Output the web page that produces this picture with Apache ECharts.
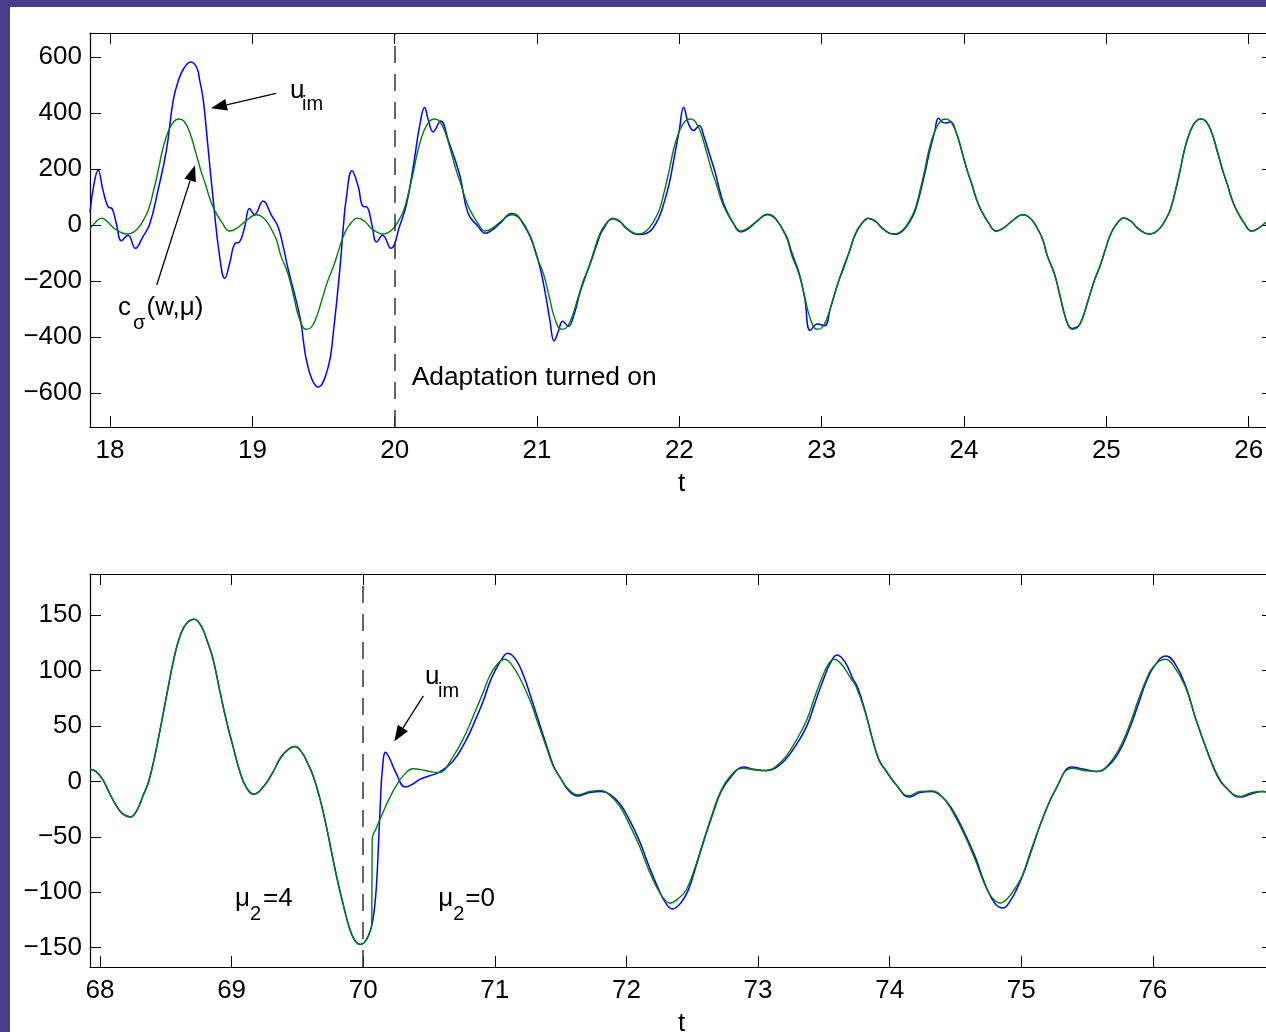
<!DOCTYPE html>
<html>
<head>
<meta charset="utf-8">
<title>u_im vs c_sigma</title>
<script src="https://cdn.jsdelivr.net/npm/echarts@6.0.0/dist/echarts.min.js"></script>
<style>
    html, body { margin: 0; padding: 0; background: #483d8b; }
    #chart { position: absolute; left: 10px; top: 7px; width: 1256px; height: 1025px; background: #ffffff; }
</style>
</head>
<body>
<div id="chart"></div>
<script>
// ---- tick values ----
const topXTicks = [18, 19, 20, 21, 22, 23, 24, 25, 26];
const topYTicks = [-600, -400, -200, 0, 200, 400, 600];
const bottomXTicks = [68, 69, 70, 71, 72, 73, 74, 75, 76];
const bottomYTicks = [-150, -100, -50, 0, 50, 100, 150];

// ---- upper panel: [t, value] ----
const topGreen = [
    [17.859, -15], [17.90, 10], [17.94, 24], [17.98, 12], [18.03, -13], [18.08, -28],
    [18.12, -33], [18.16, -28], [18.20, -10], [18.24, 22], [18.27, 55], [18.30, 110], [18.34, 198],
    [18.37, 270], [18.41, 335], [18.45, 370], [18.485, 378], [18.52, 370], [18.56, 330], [18.60, 262],
    [18.64, 190], [18.67, 145], [18.70, 95], [18.735, 52], [18.79, 5], [18.84, -22], [18.89, -12],
    [18.95, 12], [19.03, 36], [19.07, 28], [19.11, 5], [19.14, -22], [19.17, -55], [19.20, -110],
    [19.25, -175], [19.29, -255], [19.33, -335], [19.376, -373], [19.41, -368], [19.45, -330],
    [19.49, -265], [19.53, -200], [19.57, -148], [19.61, -85], [19.64, -40], [19.68, -2], [19.74, 24],
    [19.79, 12], [19.83, -10], [19.88, -28],
    [19.915, -33], [19.955, -28], [19.995, -10], [20.035, 22], [20.065, 55], [20.095, 110], [20.135, 198],
    [20.165, 270], [20.205, 335], [20.245, 370], [20.28, 378], [20.315, 370], [20.355, 330], [20.395, 262],
    [20.435, 190], [20.465, 145], [20.495, 95], [20.53, 52], [20.585, 5], [20.635, -22], [20.685, -12],
    [20.745, 12], [20.825, 36], [20.865, 28], [20.905, 5], [20.935, -22], [20.965, -55], [20.995, -110],
    [21.045, -175], [21.085, -255], [21.125, -335], [21.171, -373], [21.205, -368], [21.245, -330],
    [21.285, -265], [21.325, -200], [21.365, -148], [21.405, -85], [21.435, -40], [21.475, -2], [21.535, 24],
    [21.585, 12], [21.625, -10], [21.675, -28],
    [21.71, -33], [21.75, -28], [21.79, -10], [21.83, 22], [21.86, 55], [21.89, 110], [21.93, 198],
    [21.96, 270], [22.00, 335], [22.04, 370], [22.075, 378], [22.11, 370], [22.15, 330], [22.19, 262],
    [22.23, 190], [22.26, 145], [22.29, 95], [22.325, 52], [22.38, 5], [22.43, -22], [22.48, -12],
    [22.54, 12], [22.62, 36], [22.66, 28], [22.70, 5], [22.73, -22], [22.76, -55], [22.79, -110],
    [22.84, -175], [22.88, -255], [22.92, -335], [22.966, -373], [23.00, -368], [23.04, -330],
    [23.08, -265], [23.12, -200], [23.16, -148], [23.20, -85], [23.23, -40], [23.27, -2], [23.33, 24],
    [23.38, 12], [23.42, -10], [23.47, -28],
    [23.505, -33], [23.545, -28], [23.585, -10], [23.625, 22], [23.655, 55], [23.685, 110], [23.725, 198],
    [23.755, 270], [23.795, 335], [23.835, 370], [23.87, 378], [23.905, 370], [23.945, 330], [23.985, 262],
    [24.025, 190], [24.055, 145], [24.085, 95], [24.12, 52], [24.175, 5], [24.225, -22], [24.275, -12],
    [24.335, 12], [24.415, 36], [24.455, 28], [24.495, 5], [24.525, -22], [24.555, -55], [24.585, -110],
    [24.635, -175], [24.675, -255], [24.715, -335], [24.761, -373], [24.795, -368], [24.835, -330],
    [24.875, -265], [24.915, -200], [24.955, -148], [24.995, -85], [25.025, -40], [25.065, -2], [25.125, 24],
    [25.175, 12], [25.215, -10], [25.265, -28],
    [25.30, -33], [25.34, -28], [25.38, -10], [25.42, 22], [25.45, 55], [25.48, 110], [25.52, 198],
    [25.55, 270], [25.59, 335], [25.63, 370], [25.665, 378], [25.70, 370], [25.74, 330], [25.78, 262],
    [25.82, 190], [25.85, 145], [25.88, 95], [25.915, 52], [25.97, 5], [26.02, -22], [26.07, -12],
    [26.13, 12], [26.171, 25],
];

const topBlue = [
    [17.859, 45], [17.885, 140], [17.916, 195], [17.95, 124], [17.986, 64], [18.014, 58], [18.044, 5],
    [18.08, -57], [18.126, -37], [18.178, -84], [18.23, -43], [18.28, 5], [18.337, 124], [18.396, 267],
    [18.444, 445], [18.48, 515], [18.52, 560], [18.567, 581], [18.61, 560], [18.63, 515], [18.655, 445],
    [18.69, 267], [18.725, 88], [18.77, -114], [18.806, -191], [18.84, -138], [18.876, -67], [18.91, -61],
    [18.946, -7], [18.98, 58], [19.015, 37], [19.075, 85], [19.133, 35], [19.18, -7], [19.217, -79],
    [19.25, -156], [19.334, -329], [19.39, -507], [19.463, -579], [19.533, -507], [19.568, -388],
    [19.616, -150], [19.639, -7], [19.658, 88], [19.70, 193], [19.744, 136], [19.775, 67], [19.808, 62],
    [19.838, 5], [19.873, -61], [19.915, -37], [19.972, -84], [20.037, -1], [20.084, 76], [20.13, 207],
    [20.178, 362], [20.21, 419], [20.236, 374], [20.27, 332], [20.323, 371], [20.376, 302], [20.457, 177],
    [20.516, 40], [20.585, -5], [20.635, -30], [20.685, -18], [20.745, 8], [20.82, 40], [20.86, 34],
    [20.90, 5], [20.94, -30], [20.98, -80], [21.02, -150], [21.06, -250], [21.09, -340], [21.12, -415],
    [21.15, -380], [21.18, -344], [21.22, -362], [21.26, -320], [21.30, -245], [21.34, -185], [21.38, -130],
    [21.42, -70], [21.46, -20], [21.535, 22], [21.585, 10], [21.625, -12], [21.675, -30], [21.72, -35],
    [21.77, -30], [21.81, -15], [21.86, 30], [21.89, 75], [21.93, 150], [21.96, 230], [22.00, 340],
    [22.03, 420], [22.065, 360], [22.10, 337], [22.14, 355], [22.17, 320], [22.21, 255], [22.25, 190],
    [22.29, 110], [22.325, 58], [22.38, 5], [22.43, -25], [22.48, -15], [22.54, 10], [22.62, 38],
    [22.66, 30], [22.70, 5], [22.73, -20], [22.76, -50], [22.79, -100], [22.84, -170], [22.88, -260],
    [22.92, -377], [22.97, -354], [23.02, -360], [23.06, -300], [23.10, -232], [23.14, -170],
    [23.20, -88], [23.23, -42], [23.27, -4], [23.33, 23], [23.38, 12], [23.42, -10], [23.47, -29],
    [23.505, -34], [23.545, -30], [23.585, -13], [23.625, 17], [23.655, 48], [23.685, 100], [23.725, 185],
    [23.755, 255], [23.795, 335], [23.82, 381], [23.85, 366], [23.875, 364], [23.905, 368], [23.945, 330],
    [23.985, 262], [24.025, 190], [24.055, 145], [24.085, 95], [24.12, 52], [24.175, 5], [24.225, -22],
    [24.275, -12], [24.335, 12], [24.415, 36], [24.455, 28], [24.495, 5], [24.525, -22], [24.555, -55],
    [24.585, -110], [24.635, -175], [24.675, -255], [24.715, -335], [24.74, -365], [24.761, -370],
    [24.78, -368], [24.81, -358], [24.835, -330], [24.875, -265], [24.915, -200], [24.955, -148],
    [24.995, -85], [25.025, -40], [25.065, -2], [25.125, 24], [25.175, 12], [25.215, -10], [25.265, -28],
    [25.30, -33], [25.34, -28], [25.38, -10], [25.42, 22], [25.45, 55], [25.48, 110], [25.52, 198],
    [25.55, 270], [25.59, 335], [25.63, 370], [25.665, 378], [25.70, 370], [25.74, 330], [25.78, 262],
    [25.82, 190], [25.85, 145], [25.88, 95], [25.915, 52], [25.97, 5], [26.02, -22], [26.07, -12],
    [26.13, 12], [26.171, 25],
];

// ---- lower panel ----
const bottomBefore = [
    [67.924, 11], [67.97, 9], [68.02, 2], [68.07, -10], [68.12, -21], [68.17, -29], [68.23, -32],
    [68.28, -26], [68.33, -12], [68.37, 0], [68.42, 25], [68.47, 55], [68.51, 80], [68.56, 110],
    [68.61, 132], [68.66, 143], [68.716, 146.5], [68.77, 140], [68.82, 125], [68.86, 110], [68.91, 82],
    [68.96, 55], [69.01, 32], [69.06, 10], [69.11, -5], [69.17, -11.4], [69.24, -5], [69.31, 7.5],
    [69.37, 21], [69.43, 29], [69.48, 31.6], [69.53, 27], [69.58, 16], [69.62, 5], [69.67, -15],
    [69.71, -35], [69.75, -58], [69.80, -87], [69.85, -112], [69.90, -134], [69.94, -144],
    [69.977, -147], [70.01, -145], [70.04, -139],
];

const bottomGreenAfter = [
    [70.065, -128], [70.068, -52], [70.10, -42], [70.15, -28], [70.20, -15], [70.25, -4], [70.31, 6],
    [70.38, 11.5], [70.47, 10], [70.57, 8], [70.68, 22], [70.78, 43.6], [70.85, 63], [70.91, 80],
    [70.96, 95], [71.02, 106], [71.075, 110.4], [71.13, 105], [71.20, 91], [71.265, 73.7], [71.33, 52],
    [71.39, 31.6], [71.44, 15], [71.49, 4.5], [71.56, -7], [71.63, -12], [71.72, -9], [71.81, -8],
    [71.88, -13], [71.95, -22.5], [72.02, -38], [72.10, -58.6], [72.17, -80], [72.227, -94.7],
    [72.28, -105], [72.33, -109.7], [72.39, -106], [72.455, -97.7], [72.52, -78], [72.58, -55.6],
    [72.65, -30], [72.71, -10.5], [72.79, 5], [72.885, 12], [72.97, 10.5], [73.06, 9.6], [73.13, 13],
    [73.21, 22.5], [73.29, 37], [73.37, 55.6], [73.43, 76], [73.48, 92], [73.53, 105], [73.58, 110.4],
    [73.64, 105], [73.70, 94], [73.745, 85.7], [73.816, 61.7], [73.87, 38], [73.92, 19.6], [73.97, 10.5],
    [74.05, -3], [74.145, -12.9], [74.23, -9], [74.32, -8.4], [74.40, -14], [74.47, -25.5], [74.56, -46],
    [74.65, -70.6], [74.73, -95], [74.78, -105], [74.84, -109.7], [74.90, -105], [74.95, -97],
    [75.005, -85.7], [75.08, -60], [75.16, -34.5], [75.27, -5], [75.385, 12], [75.48, 10], [75.575, 9],
    [75.66, 15], [75.74, 28.6], [75.82, 50], [75.89, 73.7], [75.95, 92], [76.00, 103], [76.094, 110.4],
    [76.16, 104], [76.246, 85.7], [76.33, 55], [76.42, 25.6], [76.49, 6], [76.55, -4.5], [76.664, -13.5],
    [76.75, -10], [76.83, -9], [76.913, -11],
];

const bottomBlueAfter = [
    [70.065, -130], [70.085, -115], [70.10, -95], [70.115, -60], [70.13, -20], [70.145, 10], [70.17, 26.5],
    [70.20, 21], [70.25, 7.5], [70.32, -5], [70.38, -2], [70.43, 2], [70.50, 5], [70.57, 8], [70.68, 18],
    [70.78, 37], [70.85, 55], [70.91, 72], [70.97, 92], [71.04, 108], [71.10, 115.8], [71.16, 110],
    [71.22, 95], [71.28, 74], [71.34, 52], [71.40, 30], [71.45, 13], [71.50, 3], [71.56, -8], [71.63, -13],
    [71.72, -10], [71.81, -9], [71.88, -12], [71.95, -20], [72.02, -34], [72.10, -54], [72.17, -76],
    [72.24, -96], [72.30, -110], [72.35, -115], [72.41, -110], [72.47, -98], [72.53, -76], [72.59, -53],
    [72.66, -28], [72.72, -9], [72.80, 5], [72.89, 13], [72.97, 11], [73.06, 10], [73.13, 12], [73.21, 20],
    [73.29, 33], [73.37, 50], [73.43, 70], [73.49, 90], [73.55, 107], [73.60, 114.3], [73.66, 108],
    [73.72, 93], [73.76, 84], [73.82, 61], [73.87, 38], [73.92, 19], [73.97, 10], [74.05, -3], [74.15, -14],
    [74.23, -10], [74.32, -9], [74.40, -14], [74.47, -24], [74.56, -44], [74.65, -68], [74.73, -94],
    [74.80, -110], [74.86, -114.2], [74.92, -107], [74.97, -96], [75.02, -82], [75.09, -58], [75.16, -34],
    [75.27, -5], [75.385, 13], [75.48, 11], [75.575, 9], [75.66, 14], [75.74, 26], [75.82, 47], [75.89, 70],
    [75.95, 90], [76.01, 104], [76.10, 113.4], [76.17, 106], [76.25, 86], [76.33, 55], [76.42, 25],
    [76.49, 5], [76.55, -5], [76.664, -14], [76.75, -11], [76.83, -9], [76.913, -11],
];

const bottomGreen = bottomBefore.concat(bottomGreenAfter);
const bottomBlue = bottomBefore.concat(bottomBlueAfter);


const FONT = "'Liberation Sans', Arial, Helvetica, sans-serif";
const BLUE = "#0000ff";
const GREEN = "#008000";

const minusSign = (v) => String(v).replace("-", "\u2212");

function frameAxis(extra) {
    return Object.assign({
        type: "value",
        axisLine: { show: true, onZero: false, lineStyle: { color: "#000", width: 1.2 } },
        axisTick: { show: true, inside: true, length: 11, lineStyle: { color: "#000", width: 1 } },
        splitLine: { show: false },
    }, extra);
}

function xAxes(gridIndex, min, max, ticks) {
    return [
        frameAxis({
            gridIndex: gridIndex, position: "bottom", min: min, max: max,
            name: "t", nameLocation: "middle", nameGap: 44,
            nameTextStyle: { color: "#000", fontSize: 26, fontFamily: FONT },
            axisTick: { show: true, inside: true, length: 11, customValues: ticks, lineStyle: { color: "#000" } },
            axisLabel: { customValues: ticks, margin: 11, color: "#000", fontSize: 26, fontFamily: FONT },
        }),
        frameAxis({
            gridIndex: gridIndex, position: "top", min: min, max: max,
            axisTick: { show: true, inside: true, length: 11, customValues: ticks, lineStyle: { color: "#000" } },
            axisLabel: { show: false },
        }),
    ];
}

function yAxes(gridIndex, min, max, ticks) {
    return [
        frameAxis({
            gridIndex: gridIndex, position: "left", min: min, max: max,
            axisTick: { show: true, inside: true, length: 11, customValues: ticks, lineStyle: { color: "#000" } },
            axisLabel: { customValues: ticks, margin: 8, color: "#000", fontSize: 26, fontFamily: FONT, formatter: minusSign },
        }),
        frameAxis({
            gridIndex: gridIndex, position: "right", min: min, max: max,
            axisTick: { show: true, inside: true, length: 11, customValues: ticks, lineStyle: { color: "#000" } },
            axisLabel: { show: false },
        }),
    ];
}

function curve(name, data, color, xIdx, yIdx, extra) {
    return Object.assign({
        name: name,
        type: "line",
        xAxisIndex: xIdx,
        yAxisIndex: yIdx,
        data: data,
        showSymbol: false,
        smooth: 0.45,
        lineStyle: { color: color, width: color === GREEN ? 1.4 : 1.5 },
        itemStyle: { color: color },
        z: color === GREEN ? 3 : 2,
    }, extra || {});
}

function switchLine(t) {
    return {
        markLine: {
            silent: true,
            symbol: ["none", "none"],
            label: { show: false },
            lineStyle: { color: "#333", width: 1.5, type: [17, 11] },
            data: [{ xAxis: t }],
        },
    };
}

const chart = echarts.init(document.getElementById("chart"), null, { renderer: "canvas" });

chart.setOption({
    animation: false,
    backgroundColor: "#ffffff",
    grid: [
        { left: 80, top: 26, width: 1183, height: 394, containLabel: false, outerBoundsMode: "none" },
        { left: 80, top: 567, width: 1183, height: 393, containLabel: false, outerBoundsMode: "none" },
    ],
    xAxis: [].concat(xAxes(0, 17.859, 26.171, topXTicks), xAxes(1, 67.924, 76.913, bottomXTicks)),
    yAxis: [].concat(yAxes(0, -722, 685, topYTicks), yAxes(1, -167.4, 187.3, bottomYTicks)),
    series: [
        curve("u_im", topBlue, BLUE, 0, 0),
        curve("c_sigma", topGreen, GREEN, 0, 0, switchLine(20)),
        curve("u_im", bottomBlue, BLUE, 2, 2),
        curve("c_sigma", bottomGreen, GREEN, 2, 2, switchLine(70)),
    ],
});

// ---- annotations, anchored in data coordinates ----
function px(grid, t, v) {
    return chart.convertToPixel({ gridIndex: grid }, [t, v]);
}

function label(grid, t, v, parts) {
    // parts: [text, size, dx, dy] measured from the baseline start of the first part
    const p = px(grid, t, v);
    return parts.map(([text, size, dx, dy]) => ({
        type: "text",
        x: p[0] + dx,
        y: p[1] + dy - 0.3465 * size,
        silent: true,
        style: { text: text, fill: "#000", font: `${size}px ${FONT}`, align: "left", verticalAlign: "middle" },
    }));
}

function arrow(grid, from, to) {
    const a = px(grid, from[0], from[1]);
    const b = px(grid, to[0], to[1]);
    const len = Math.hypot(b[0] - a[0], b[1] - a[1]);
    const ux = (b[0] - a[0]) / len, uy = (b[1] - a[1]) / len;
    const headLen = 16, headHalf = 6;
    const bx = b[0] - ux * headLen, by = b[1] - uy * headLen;
    return [
        {
            type: "line", silent: true,
            shape: { x1: a[0], y1: a[1], x2: bx, y2: by },
            style: { stroke: "#000", lineWidth: 1.3 },
        },
        {
            type: "polygon", silent: true,
            shape: { points: [[b[0], b[1]], [bx - uy * headHalf, by + ux * headHalf], [bx + uy * headHalf, by - ux * headHalf]] },
            style: { fill: "#000" },
        },
    ];
}

const graphics = [].concat(
    label(0, 19.264, 445, [["u", 26, 0, 0], ["im", 20, 12, 11.7]]),
    arrow(0, [19.166, 469], [18.709, 416]),
    label(0, 18.056, -329, [["c", 26, 0, 0], ["\u03c3", 20, 15, 13.3], ["(w,\u03bc)", 26, 28.5, 0]]),
    arrow(0, [18.328, -215], [18.597, 213]),
    label(0, 20.119, -579, [["Adaptation turned on", 26.4, 0, 0]]),
    label(1, 70.470, 86.3, [["u", 26, 0, 0], ["im", 20, 13, 12.3]]),
    arrow(1, [70.457, 77.3], [70.236, 36.1]),
    label(1, 69.026, -114.2, [["\u03bc", 26, 0, 0], ["2", 20, 15, 13.4], ["=4", 26, 28, 0]]),
    label(1, 70.571, -114.2, [["\u03bc", 26, 0, 0], ["2", 20, 15, 13.4], ["=0", 26, 27, 0]])
);

chart.setOption({ graphic: graphics });
</script>
</body>
</html>
